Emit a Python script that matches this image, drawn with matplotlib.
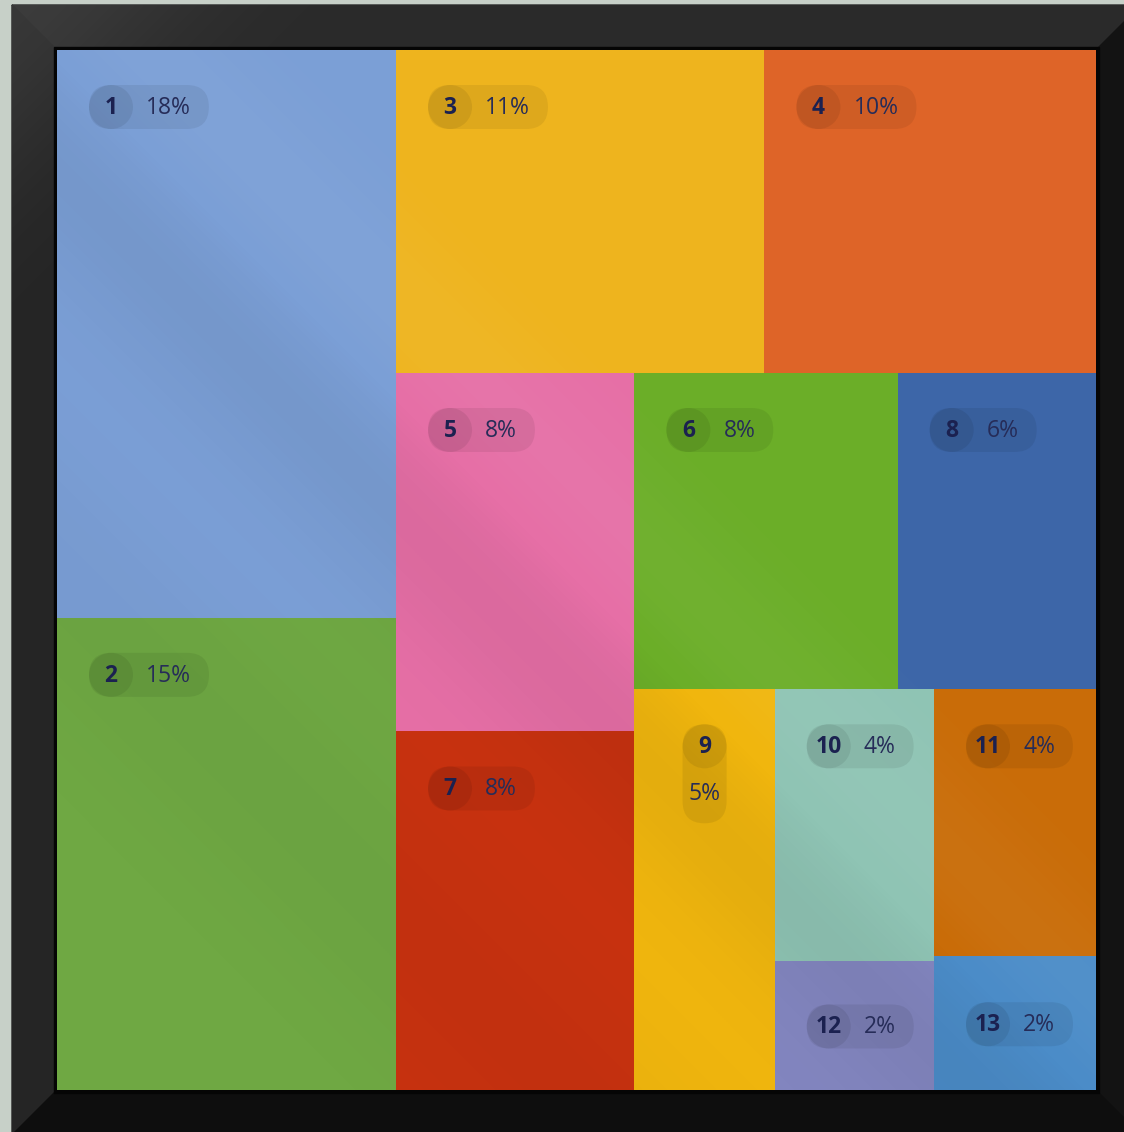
import matplotlib
matplotlib.use("Agg")
import matplotlib.pyplot as plt
from matplotlib.patches import Rectangle, Polygon, FancyBboxPatch, Circle
import numpy as np

# ---------------- data ----------------
ranks = ["1", "2", "3", "4", "5", "6", "7", "8", "9", "10", "11", "12", "13"]
values = [17.8, 14.8, 11.0, 9.9, 7.9, 7.7, 7.9, 5.8, 5.2, 4.0, 4.0, 1.9, 2.0]
colors = ["#7b9fd6", "#6fa843", "#eeb41e", "#de6428", "#e66fa6", "#6bae28",
          "#c83210", "#3d66a8", "#f0b60e", "#8fc4b4", "#c96c08", "#8386c0",
          "#4b8cc8"]
# nested slice layout: 'h' = children side by side, 'v' = stacked
layout_tree = ("h", [("v", [0, 1]),
                     ("v", [("h", [2, 3]),
                            ("h", [("v", [4, 6]),
                                   ("v", [("h", [5, 7]),
                                          ("h", [8, ("v", [9, 11]), ("v", [10, 12])])])])])])

total = sum(values)
pct_labels = [f"{round(v / total * 100)}%" for v in values]


def node_sum(node):
    if isinstance(node, int):
        return values[node]
    return sum(node_sum(c) for c in node[1])


def layout(node, x, y, w, h, out):
    if isinstance(node, int):
        out[node] = (x, y, w, h)
        return
    kind, children = node
    s = node_sum(node)
    pos = 0.0
    for c in children:
        f = node_sum(c) / s
        if kind == "h":
            layout(c, x + pos * w, y, f * w, h, out)
        else:
            layout(c, x, y + pos * h, w, f * h, out)
        pos += f


# ---------------- figure ----------------
FW, FH = 1124, 1132
fig = plt.figure(figsize=(FW / 100, FH / 100), dpi=100)
ax = fig.add_axes([0, 0, 1, 1])
ax.set_xlim(0, FW)
ax.set_ylim(FH, 0)
ax.axis("off")

# wall
ax.add_patch(Rectangle((0, 0), FW, FH, color="#c7d0c8", zorder=0))

# frame geometry
X0, Y0, X1, Y1 = 57, 50, 1096, 1090          # inner picture box
OX0, OY0, OX1, OY1 = 12, 5, 1141, 1135         # outer frame edge
ax.add_patch(Polygon([(OX0, OY0), (OX1, OY0), (X1, Y0), (X0, Y0)],
                     closed=True, color="#2a2a2a", zorder=1))
ax.add_patch(Polygon([(OX0, OY0), (X0, Y0), (X0, Y1), (OX0, OY1)],
                     closed=True, color="#252525", zorder=1))
ax.add_patch(Polygon([(OX1, OY0), (OX1, OY1), (X1, Y1), (X1, Y0)],
                     closed=True, color="#131313", zorder=1))
ax.add_patch(Polygon([(OX0, OY1), (X0, Y1), (X1, Y1), (OX1, OY1)],
                     closed=True, color="#0e0e0e", zorder=1))
# soft highlight on the top-left of the frame
gx = np.linspace(0, 1, 200)
grad = np.exp(-((gx[None, :] + gx[:, None]) / 0.45) ** 2)
ax.imshow(np.dstack([np.full_like(grad, 0.55)] * 3 + [grad * 0.18]),
          extent=(OX0, OX0 + 400, OY0 + 400, OY0), zorder=1.5,
          interpolation="bilinear")
ax.add_patch(Rectangle((X0 - 3, Y0 - 3), X1 - X0 + 6, Y1 - Y0 + 6,
                       color="#050505", zorder=1.8))

# ---------------- treemap ----------------
W, H = X1 - X0, Y1 - Y0
rects = {}
layout(layout_tree, 0.0, 0.0, 1.0, 1.0, rects)

TXT = "#1b2150"
PTXT = "#262c58"
FONT = "Open Sans"
FS = 16.5
R = 22
fig.canvas.draw()
renderer = fig.canvas.get_renderer()

for i in range(len(values)):
    rx, ry, rw, rh = rects[i]
    px, py, pw, ph = X0 + rx * W, Y0 + ry * H, rw * W, rh * H
    ax.add_patch(Rectangle((px, py), pw, ph, color=colors[i], lw=0, zorder=2))

# diagonal sheen over the picture
yy, xx = np.mgrid[Y0:Y1:2, X0:X1:2]
d = (yy - xx)
dark = 0.05 * np.exp(-((d - 110) / 120.0) ** 2) + 0.03 * np.exp(-((d - 520) / 150.0) ** 2)
light = 0.04 * np.exp(-((d + 90) / 110.0) ** 2)
rgba = np.zeros(dark.shape + (4,))
rgba[..., :3] = np.where((light > dark)[..., None], 1.0, 0.0)
rgba[..., 3] = np.abs(dark - light)
ax.imshow(rgba, extent=(X0, X1, Y1, Y0), zorder=2.5, interpolation="bilinear")

for i in range(len(values)):
    rx, ry, rw, rh = rects[i]
    px, py, pw, ph = X0 + rx * W, Y0 + ry * H, rw * W, rh * H
    cy = py + 57 if ph > 150 else py + ph / 2 + 1
    t = ax.text(0, 0, pct_labels[i], fontsize=FS, family=FONT)
    tw = t.get_window_extent(renderer).width
    t.remove()
    pill_w = 2 * R + 13 + tw + 18
    if pill_w + 40 > pw:
        cx = px + pw / 2
        top = cy - R
        bot = cy + 77
        ax.add_patch(FancyBboxPatch((cx - R, top), 2 * R, bot - top,
                                    boxstyle=f"round,pad=0,rounding_size={R}",
                                    fc="black", alpha=0.07, lw=0, zorder=3))
        ax.add_patch(Circle((cx, cy), R, fc="black", alpha=0.07, lw=0, zorder=3))
        ax.text(cx, cy + 1, ranks[i], fontsize=FS, family=FONT, weight="bold",
                color=TXT, ha="center", va="center", zorder=4)
        ax.text(cx, cy + 48, pct_labels[i], fontsize=FS, family=FONT,
                color=PTXT, ha="center", va="center", zorder=4)
    else:
        lx = px + 32
        ax.add_patch(FancyBboxPatch((lx, cy - R), pill_w, 2 * R,
                                    boxstyle=f"round,pad=0,rounding_size={R}",
                                    fc="black", alpha=0.065, lw=0, zorder=3))
        ax.add_patch(Circle((lx + R, cy), R, fc="black", alpha=0.07, lw=0, zorder=3))
        ax.text(lx + R, cy + 1, ranks[i], fontsize=FS, family=FONT, weight="bold",
                color=TXT, ha="center", va="center", zorder=4)
        ax.text(lx + 2 * R + 13, cy + 1, pct_labels[i], fontsize=FS, family=FONT,
                color=PTXT, ha="left", va="center", zorder=4)

fig.savefig("out.png", dpi=100)
